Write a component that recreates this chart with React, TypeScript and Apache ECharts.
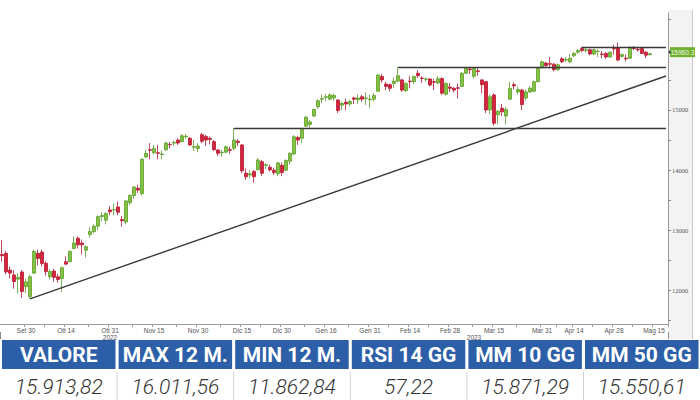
import React, { useEffect, useRef } from "react";
import * as echarts from "echarts";

// ---- categories (trading days) ----
const sep22Days = [22, 23, 26, 27, 28, 29, 30];
const oct22Days = [3, 4, 5, 6, 7, 10, 11, 12, 13, 14, 17, 18, 19, 20, 21, 24, 25, 26, 27, 28, 31];
const nov22Days = [1, 2, 3, 4, 7, 8, 9, 10, 11, 14, 15, 16, 17, 18, 21, 22, 23, 24, 25, 28, 29, 30];
const dec22Days = [1, 2, 5, 6, 7, 8, 9, 12, 13, 14, 15, 16, 19, 20, 21, 22, 23, 27, 28, 29, 30];
const jan23Days = [2, 3, 4, 5, 6, 9, 10, 11, 12, 13, 16, 17, 18, 19, 20, 23, 24, 25, 26, 27, 30, 31];
const feb23Days = [1, 2, 3, 6, 7, 8, 9, 10, 13, 14, 15, 16, 17, 20, 21, 22, 23, 24, 27, 28];
const mar23Days = [1, 2, 3, 6, 7, 8, 9, 10, 13, 14, 15, 16, 17, 20, 21, 22, 23, 24, 27, 28, 29, 30, 31];
const apr23Days = [3, 4, 5, 6, 11, 12, 13, 14, 17, 18, 19, 20, 21, 24, 25, 26, 27, 28];
const may23Days = [2, 3, 4, 5, 8, 9, 10, 11, 12, 15, 16, 17, 18];
const monthKeys = ["2022-09", "2022-10", "2022-11", "2022-12", "2023-01", "2023-02", "2023-03", "2023-04", "2023-05"];
const monthDays = [sep22Days, oct22Days, nov22Days, dec22Days, jan23Days, feb23Days, mar23Days, apr23Days, may23Days];

// ---- series values: [open, close, low, high] ----
const sep22 = [
  [12600, 12580, 12480, 12840], [12620, 12310, 12270, 12660], [12340, 12290, 12200, 12400],
  [12260, 12150, 12030, 12340], [12190, 12220, 11950, 12290], [12310, 11985, 11880, 12340],
  [12065, 12145, 11960, 12200],
];
const oct22 = [
  [11900, 12230, 11863, 12260], [12290, 12650, 12280, 12680], [12620, 12535, 12420, 12680],
  [12640, 12450, 12400, 12680], [12455, 12315, 12250, 12490], [12230, 12315, 12190, 12345],
  [12325, 12220, 12150, 12360], [12230, 12185, 12130, 12280], [12200, 12380, 11975, 12400],
  [12480, 12440, 12420, 12570], [12480, 12650, 12470, 12670], [12700, 12790, 12690, 12900],
  [12870, 12760, 12700, 12900], [12790, 12760, 12600, 12850], [12670, 12730, 12550, 12750],
  [12930, 12980, 12880, 13050], [12980, 13070, 12950, 13100], [13070, 13230, 13000, 13250],
  [13230, 13250, 13150, 13300], [13170, 13280, 13100, 13300], [13340, 13310, 13250, 13400],
];
const nov22 = [
  [13340, 13345, 13250, 13450], [13390, 13300, 13250, 13480], [13180, 13160, 13060, 13240],
  [13140, 13490, 13100, 13510], [13460, 13580, 13420, 13600], [13580, 13720, 13520, 13730],
  [13700, 13670, 13620, 13760], [13610, 14180, 13580, 14200], [14220, 14280, 14200, 14340],
  [14340, 14330, 14180, 14450], [14290, 14360, 14260, 14420], [14290, 14280, 14180, 14420],
  [14260, 14270, 14180, 14330], [14340, 14450, 14320, 14470], [14430, 14425, 14360, 14470],
  [14450, 14460, 14400, 14490], [14500, 14450, 14420, 14530], [14475, 14570, 14460, 14600],
  [14555, 14565, 14520, 14600], [14530, 14420, 14400, 14550], [14380, 14390, 14320, 14500],
  [14360, 14400, 14300, 14450],
];
const dec22 = [
  [14590, 14480, 14450, 14620], [14560, 14500, 14400, 14590], [14530, 14510, 14430, 14560],
  [14475, 14340, 14320, 14500], [14335, 14280, 14240, 14350], [14290, 14300, 14220, 14340],
  [14300, 14390, 14280, 14410], [14340, 14330, 14270, 14390], [14365, 14500, 14330, 14700],
  [14480, 14460, 14400, 14520], [14420, 13990, 13950, 14430], [13950, 13890, 13840, 14030],
  [13920, 13940, 13870, 14000], [13980, 13890, 13790, 14000], [14010, 14170, 13990, 14200],
  [14140, 13950, 13900, 14170], [14080, 14090, 14020, 14120], [14050, 14005, 13980, 14090],
  [14000, 13960, 13920, 14040], [13940, 14120, 13900, 14140], [14080, 13960, 13900, 14130],
];
const jan23 = [
  [14000, 14160, 13980, 14180], [14150, 14280, 14090, 14300], [14270, 14555, 14250, 14580],
  [14545, 14500, 14420, 14570], [14530, 14695, 14450, 14700], [14730, 14880, 14720, 14900],
  [14760, 14800, 14700, 14830], [14900, 15010, 14880, 15020], [15055, 15155, 15020, 15180],
  [15180, 15190, 15110, 15250], [15210, 15220, 15150, 15270], [15180, 15250, 15160, 15280],
  [15200, 15240, 15150, 15270], [15165, 14990, 14950, 15180], [15080, 15110, 15000, 15140],
  [15130, 15100, 15000, 15190], [15100, 15140, 15060, 15170], [15200, 15180, 15100, 15220],
  [15170, 15200, 15100, 15260], [15220, 15180, 15140, 15250], [15190, 15200, 15080, 15290],
  [15170, 15180, 15030, 15250],
];
const feb23 = [
  [15180, 15240, 15140, 15280], [15310, 15580, 15300, 15600], [15555, 15500, 15450, 15600],
  [15430, 15390, 15330, 15470], [15420, 15360, 15310, 15440], [15440, 15480, 15360, 15540],
  [15480, 15570, 15460, 15710], [15500, 15330, 15300, 15520], [15320, 15440, 15300, 15460],
  [15480, 15470, 15360, 15560], [15470, 15555, 15430, 15570], [15610, 15570, 15530, 15660],
  [15530, 15525, 15450, 15560], [15510, 15515, 15470, 15540], [15515, 15415, 15390, 15530],
  [15470, 15460, 15330, 15520], [15450, 15520, 15430, 15560], [15525, 15280, 15250, 15540],
  [15260, 15440, 15240, 15460], [15380, 15360, 15300, 15450],
];
const mar23 = [
  [15360, 15330, 15290, 15380], [15370, 15360, 15190, 15440], [15390, 15610, 15380, 15630],
  [15610, 15690, 15600, 15710], [15680, 15670, 15600, 15720], [15560, 15690, 15520, 15700],
  [15650, 15640, 15570, 15710], [15500, 15420, 15280, 15510], [15470, 15000, 14950, 15480],
  [15000, 15220, 14930, 15260], [15250, 14780, 14740, 15280], [14920, 14980, 14760, 15000],
  [15030, 14970, 14900, 15100], [14900, 15010, 14760, 15050], [15180, 15360, 15170, 15470],
  [15420, 15400, 15340, 15460], [15300, 15340, 15260, 15390], [15330, 15090, 15000, 15350],
  [15200, 15300, 15160, 15340], [15300, 15360, 15280, 15400], [15310, 15470, 15300, 15490],
  [15470, 15690, 15460, 15700], [15700, 15800, 15690, 15820],
];
const apr23 = [
  [15780, 15740, 15700, 15800], [15770, 15760, 15690, 15880], [15760, 15670, 15640, 15780],
  [15670, 15750, 15650, 15770], [15850, 15800, 15780, 15880], [15830, 15840, 15800, 15880],
  [15800, 15860, 15780, 15930], [15900, 15940, 15880, 15960], [15960, 15990, 15930, 16010],
  [16020, 15990, 15960, 16050], [15990, 16000, 15950, 16050], [16000, 15930, 15910, 16020],
  [15930, 16000, 15910, 16020], [15970, 15975, 15880, 16010], [15930, 15920, 15860, 15980],
  [15940, 15880, 15850, 15960], [15880, 15960, 15870, 15970], [16020, 16015, 15920, 16080],
];
const may23 = [
  [16030, 15830, 15810, 16120], [15890, 15920, 15870, 15940], [15860, 15850, 15810, 15920],
  [15860, 16040, 15850, 16060], [16040, 16020, 15990, 16060], [16010, 16000, 15970, 16030],
  [16020, 15940, 15930, 16030], [15960, 15910, 15860, 15980], [15920, 15935, 15900, 15950],
];

// ---- levels / annotations ----
const levelValues = [14700, 15714, 16050];
const levelStarts = ["2022-12-13", "2023-02-09", "2023-04-18"];
const trendFrom = ["2022-10-03", 11863];
const trendTo = ["2023-05-18", 15565];
const lastPrice = 15960.3;

// ---- tick labels ----
const monthNames = ["Gen", "Feb", "Mar", "Apr", "Mag", "Giu", "Lug", "Ago", "Set", "Ott", "Nov", "Dic"];
const labelDates = [
  "2022-09-30", "2022-10-14", "2022-10-31", "2022-11-15", "2022-11-30", "2022-12-15", "2022-12-30",
  "2023-01-16", "2023-01-31", "2023-02-14", "2023-02-28", "2023-03-15", "2023-03-31", "2023-04-14",
  "2023-04-28", "2023-05-15",
];
const yearLabelDates = ["2022-10-31", "2023-03-08"];
const yearLabels = ["2022", "2023"];
const yearBreakDate = "2023-01-02";
const yTickValues = [11500, 12000, 12500, 13000, 13500, 14000, 14500, 15000, 15500, 16000, 16500];
const yLabelValues = [12000, 13000, 14000, 15000];

// ---- table ----
const tableHeaders = ["VALORE", "MAX 12 M.", "MIN 12 M.", "RSI 14 GG", "MM 10 GG", "MM 50 GG"];
const tableValues = ["15.913,82", "16.011,56", "11.862,84", "57,22", "15.871,29", "15.550,61"];

const pad = (n: number) => (n < 10 ? "0" + n : "" + n);
const categories: string[] = [];
monthKeys.forEach((mk, i) => monthDays[i].forEach((d) => categories.push(mk + "-" + pad(d))));
const ohlc = [...sep22, ...oct22, ...nov22, ...dec22, ...jan23, ...feb23, ...mar23, ...apr23, ...may23];

const fmtDate = (v: string) => {
  const p = v.split("-");
  return monthNames[parseInt(p[1], 10) - 1] + " " + parseInt(p[2], 10);
};

export default function App() {
  const ref = useRef<HTMLDivElement>(null);
  useEffect(() => {
    if (!ref.current) return;
    const chart = echarts.init(ref.current, null, { renderer: "svg" });
    const labelSet = new Set(labelDates);
    const labelIdx = labelDates.map((d) => categories.indexOf(d));
    const tickIdx = new Set<number>(labelIdx);
    for (let i = 0; i < labelIdx.length - 1; i++) tickIdx.add(Math.round((labelIdx[i] + labelIdx[i + 1]) / 2));
    const yearMap = new Map<string, string>();
    yearLabelDates.forEach((d, i) => yearMap.set(d, yearLabels[i]));
    const breakIdx = categories.indexOf(yearBreakDate);

    const lineColor = "#3a3a3a";
    const markData: any[] = levelValues.map((v, i) => [
      { coord: [levelStarts[i], v] },
      { coord: [categories[categories.length - 1], v] },
    ]);
    markData.push([{ coord: trendFrom }, { coord: trendTo }]);

    const cellW = 113.5;
    const cellStep = 116.6;
    const graphic: any[] = [
      { id: "panel", type: "rect", z: -10, shape: { x: 668, y: 10, width: 24, height: 329 }, style: { fill: "#f3f3f3" } },
      { id: "panelBorder", type: "line", z: -9, shape: { x1: 692.5, y1: 10, x2: 692.5, y2: 339 }, style: { stroke: "#c9c9c9", lineWidth: 1 } },
    ];
    tableHeaders.forEach((h, i) => {
      const x = 2 + i * cellStep;
      graphic.push({ id: "hbg" + i, type: "rect", shape: { x, y: 340, width: cellW, height: 29 }, style: { fill: "#2c5fa7" } });
      graphic.push({
        id: "ht" + i, type: "text", x: x + cellW / 2, y: 355,
        style: { text: h, fill: "#ffffff", fontSize: 21, fontWeight: "bold", fontFamily: "Roboto", align: "center", verticalAlign: "middle" },
      });
      graphic.push({
        id: "vt" + i, type: "text", x: x + cellW / 2, y: 387,
        style: { text: tableValues[i], fill: "#333333", fontSize: 21, fontWeight: 300, fontStyle: "italic", fontFamily: "Roboto", align: "center", verticalAlign: "middle" },
      });
      if (i > 0) {
        graphic.push({ id: "sep" + i, type: "line", shape: { x1: x - 1.5, y1: 372, x2: x - 1.5, y2: 400 }, style: { stroke: "#d0d0d0", lineWidth: 1 } });
      }
    });

    chart.setOption({
      animation: false,
      backgroundColor: "#ffffff",
      grid: { left: 0, right: 32, top: 13, bottom: 76, containLabel: false },
      xAxis: [
        {
          type: "category",
          data: categories,
          boundaryGap: true,
          axisLine: { show: true, lineStyle: { color: "#9a9a9a" } },
          axisTick: { show: true, interval: (i: number) => tickIdx.has(i), length: 3, lineStyle: { color: "#9a9a9a" } },
          axisLabel: {
            interval: (i: number, v: string) => labelSet.has(v),
            formatter: fmtDate,
            fontSize: 6.5,
            color: "#555",
            margin: 3,
            fontFamily: "Liberation Sans",
          },
          splitLine: { show: false },
        },
        {
          type: "category",
          data: categories,
          position: "bottom",
          offset: 8,
          boundaryGap: true,
          axisLine: { show: false },
          axisTick: { show: true, interval: (i: number) => i === breakIdx, length: 7, lineStyle: { color: "#8a8a8a" } },
          axisLabel: {
            interval: (i: number, v: string) => yearMap.has(v),
            formatter: (v: string) => yearMap.get(v) || "",
            fontSize: 6.5,
            color: "#555",
            margin: 2,
            fontFamily: "Liberation Sans",
          },
          splitLine: { show: false },
        },
      ],
      yAxis: {
        type: "value",
        position: "right",
        min: 11445,
        max: 16611,
        axisLine: { show: true, lineStyle: { color: "#9a9a9a" } },
        axisTick: { show: true, customValues: yTickValues, length: 3, lineStyle: { color: "#8a8a8a" } },
        axisLabel: {
          customValues: yLabelValues,
          formatter: (v: number) => String(Math.round(v)),
          fontSize: 6.5,
          color: "#555",
          margin: 4,
          fontFamily: "Liberation Serif",
        },
        splitLine: { show: false },
      },
      series: [
        {
          type: "candlestick",
          data: ohlc,
          barWidth: 3,
          itemStyle: {
            color: "#84c340",
            color0: "#d8233e",
            borderColor: "#5e9a2c",
            borderColor0: "#b31a30",
            borderWidth: 0.8,
          },
          markLine: {
            silent: true,
            symbol: "none",
            animation: false,
            label: { show: false },
            lineStyle: { color: lineColor, width: 1.4, type: "solid" },
            data: markData,
          },
        },
      ],
      graphic,
    });

    // last price tag on the right axis, positioned through the axis scale
    const py = chart.convertToPixel({ yAxisIndex: 0 }, lastPrice) as number;
    const ax = chart.convertToPixel({ xAxisIndex: 0 }, categories[categories.length - 1]) as number;
    const axisX = ax + 2;
    chart.setOption({
      graphic: [
        { id: "tagBg", type: "rect", shape: { x: axisX + 2, y: py - 5, width: 25, height: 10 }, style: { fill: "#6fb230" } },
        { id: "tagArrow", type: "polygon", shape: { points: [[axisX, py - 2.5], [axisX + 3, py], [axisX, py + 2.5]] }, style: { fill: "#222" } },
        {
          id: "tagText", type: "text", x: axisX + 14.5, y: py,
          style: { text: lastPrice.toFixed(1), fill: "#f2f9ea", fontSize: 6.5, fontFamily: "Liberation Sans", align: "center", verticalAlign: "middle" },
        },
      ],
    });
    return () => chart.dispose();
  }, []);
  return <div ref={ref} style={{ position: "absolute", left: 0, top: 0, width: 700, height: 400 }} />;
}
